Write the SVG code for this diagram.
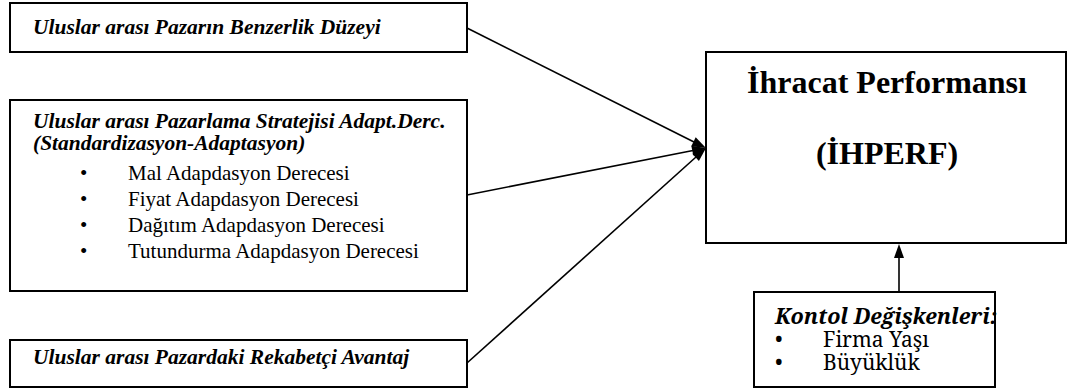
<svg xmlns="http://www.w3.org/2000/svg" width="1068" height="389" viewBox="0 0 1068 389">
<style>
.box{fill:#fff;stroke:#000;stroke-width:2}
.bi{font-style:italic;font-weight:bold;font-size:21.5px}
.r{font-size:21px}
.tb{font-weight:bold;font-size:32px}
.con{stroke:#000;stroke-width:1.6;fill:none}
.head{fill:#000}
</style>
<g id="n1"><rect class="box" x="10" y="3" width="457" height="49"/>
<text class="bi" x="33" y="34" style="font-family:'Liberation Serif',serif">Uluslar arası Pazarın Benzerlik Düzeyi</text></g>
<g id="n2"><rect class="box" x="10" y="100" width="457" height="191"/>
<text class="bi" x="33" y="128" font-family="Times New Roman">Uluslar arası Pazarlama Stratejisi Adapt.Derc.</text>
<text class="bi" x="33" y="150" font-family="Times New Roman">(Standardizasyon-Adaptasyon)</text>
<text class="r" x="80" y="180" font-family="Times New Roman">•</text><text class="r" x="128" y="180" font-family="Times New Roman">Mal Adapdasyon Derecesi</text>
<text class="r" x="80" y="206" font-family="Times New Roman">•</text><text class="r" x="128" y="206" font-family="Times New Roman">Fiyat Adapdasyon Derecesi</text>
<text class="r" x="80" y="232" font-family="Times New Roman">•</text><text class="r" x="128" y="232" font-family="Times New Roman">Dağıtım Adapdasyon Derecesi</text>
<text class="r" x="80" y="258" font-family="Times New Roman">•</text><text class="r" x="128" y="258" font-family="Times New Roman">Tutundurma Adapdasyon Derecesi</text></g>
<g id="n3"><rect class="box" x="10" y="340" width="457" height="47"/>
<text class="bi" x="33" y="364" font-family="serif">Uluslar arası Pazardaki Rekabetçi Avantaj</text></g>
<g id="n4"><rect class="box" x="706" y="52" width="360" height="191"/>
<text class="tb" x="887" y="93" text-anchor="middle" font-family="Liberation Serif">İhracat Performansı</text>
<text class="tb" x="887" y="164" text-anchor="middle" font-family="Liberation Serif">(İHPERF)</text></g>
<g id="n5"><rect class="box" x="754" y="292" width="241" height="95"/>
<text class="bi" x="775" y="324" font-family="Noto Serif">Kontol Değişkenleri:</text>
<text class="r" x="775" y="347" font-family="Noto Serif">•</text><text class="r" x="823" y="347" font-family="Noto Serif">Firma Yaşı</text>
<text class="r" x="775" y="370" font-family="Noto Serif">•</text><text class="r" x="823" y="370" font-family="Noto Serif">Büyüklük</text></g>
<g id="connectors">
<line class="con" x1="467" y1="28" x2="694" y2="142"/>
<polygon class="head" points="706,148 695.7,137.2 691.3,146.2"/>
<line class="con" x1="467" y1="195" x2="693" y2="150.5"/>
<polygon class="head" points="706,148 693.3,155.6 691.3,145.8"/>
<line class="con" x1="467" y1="363" x2="696" y2="157"/>
<polygon class="head" points="706,148 698.9,161.1 692.3,153.7"/>
<line class="con" x1="899" y1="292" x2="899" y2="256"/>
<polygon class="head" points="899,244 894,258 904,258"/>
</g>
</svg>
